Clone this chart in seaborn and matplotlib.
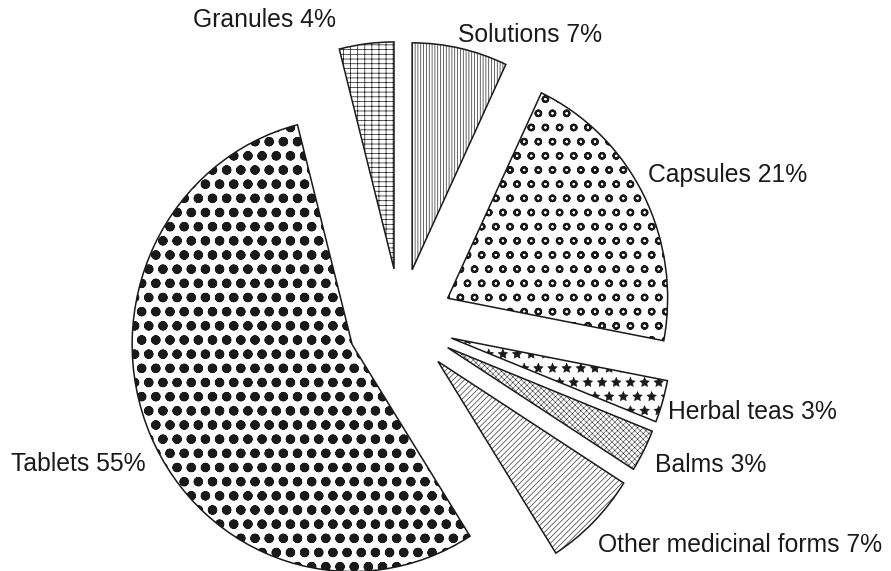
import matplotlib
matplotlib.use("Agg")
import matplotlib.pyplot as plt
import seaborn as sns
import numpy as np

# data
forms = ["Solutions", "Capsules", "Herbal teas", "Balms",
         "Other medicinal forms", "Tablets", "Granules"]
shares = [7, 21, 3, 3, 7, 55, 4]

# styling per slice (same order as forms)
hatches = ["|||||", "o", "*", "xxxxx", "/////", ".o", "---||"]
hatch_lw = [0.55, 1.8, 0.6, 0.4, 0.5, 3.2, 0.6]
# label placement: angle nudge (deg) from slice middle, distance in radii
label_nudge = [1.2, 3.8, -2.1, -1.8, -3.0, 5.9, 6.3]
label_dist = [1.056, 1.06, 1.037, 1.075, 1.087, 1.075, 1.128]

sns.set_theme(style="white")
plt.rcParams["font.family"] = ["Liberation Sans", "DejaVu Sans"]

DPI = 85
fig = plt.figure(figsize=(891 / DPI, 571 / DPI), dpi=DPI)
ax = fig.add_axes([0, 0, 1, 1])

expl = 0.24
wedges, _ = ax.pie(shares, startangle=90, counterclock=False,
                   explode=[expl] * len(shares),
                   wedgeprops=dict(facecolor="white", edgecolor="#1a1a1a",
                                   linewidth=1.3))

for w, h, lw in zip(wedges, hatches, hatch_lw):
    w.set_hatch(h)
    if hasattr(w, "set_hatch_linewidth"):
        w.set_hatch_linewidth(lw)
    else:
        w._hatch_linewidth = lw

for w, name, val, dth, dist in zip(wedges, forms, shares, label_nudge, label_dist):
    mid = np.deg2rad((w.theta1 + w.theta2) / 2)
    vx, vy = expl * np.cos(mid), expl * np.sin(mid)
    ang = mid + np.deg2rad(dth)
    x = vx + dist * np.cos(ang)
    y = vy + dist * np.sin(ang)
    ax.text(x, y, f"{name} {val}%", ha="left" if np.cos(ang) > 0 else "right",
            va="center", fontsize=21, color="#1a1a1a")

ax.set_aspect("auto")
ax.set_xlim(-1.821, 2.229)
ax.set_ylim(-1.093, 1.423)
ax.axis("off")

fig.savefig("out.png", dpi=DPI, facecolor="white")
